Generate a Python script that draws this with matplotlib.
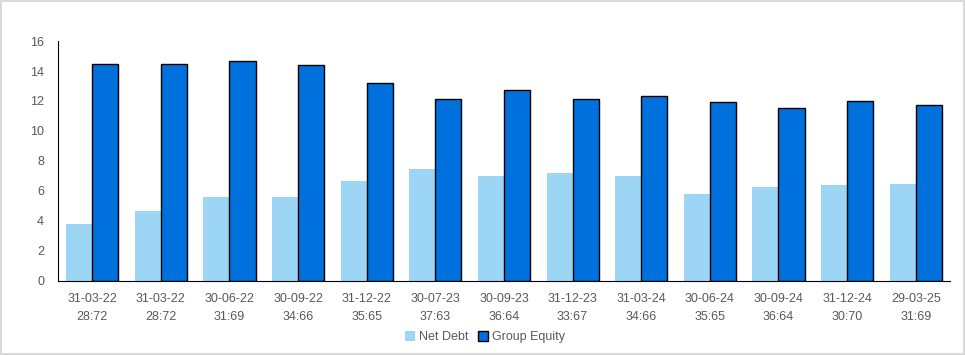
import matplotlib
matplotlib.use('Agg')
import matplotlib.pyplot as plt
import numpy as np

# data
labels = ['31-03-22\n28:72', '31-03-22\n28:72', '30-06-22\n31:69', '30-09-22\n34:66',
          '31-12-22\n35:65', '30-07-23\n37:63', '30-09-23\n36:64', '31-12-23\n33:67',
          '31-03-24\n34:66', '30-06-24\n35:65', '30-09-24\n36:64', '31-12-24\n30:70',
          '29-03-25\n31:69']
net_debt = [3.8, 4.67, 5.6, 5.6, 6.67, 7.47, 7.0, 7.2, 7.0, 5.8, 6.27, 6.4, 6.47]
group_equity = [14.5, 14.5, 14.7, 14.4, 13.2, 12.1, 12.7, 12.1, 12.3, 11.9, 11.5, 12.0, 11.7]

plt.rcParams['font.family'] = ['Liberation Sans', 'DejaVu Sans']

fig = plt.figure(figsize=(9.65, 3.55), dpi=100)
fig.patch.set_edgecolor('#d9d9d9')
fig.patch.set_linewidth(1.5)
ax = fig.add_axes([0.060, 0.2085, 0.9245, 0.676])

x = np.arange(len(labels))
w = 0.38
ax.bar(x - w / 2, net_debt, w, color='#9dd5f5', label='Net Debt')
ax.bar(x + w / 2, group_equity, w, color='#0070dd', edgecolor='black', linewidth=1, label='Group Equity')

ax.set_xlim(-0.5, len(labels) - 0.5)
ax.set_ylim(0, 16)
ax.set_yticks(range(0, 17, 2))
ax.set_xticks(x)
ax.set_xticklabels(labels, linespacing=1.6)
ax.tick_params(axis='both', length=0, colors='#595959', labelsize=9)
ax.tick_params(axis='x', pad=9)
ax.tick_params(axis='y', pad=10)

for s in ['top', 'right']:
    ax.spines[s].set_visible(False)
ax.spines['left'].set_color('black')
ax.spines['bottom'].set_color('black')

leg = fig.legend(loc='center', bbox_to_anchor=(485 / 965, 1 - 337 / 355), ncol=2, frameon=False,
                 fontsize=9, handlelength=0.8, handleheight=0.8, handletextpad=0.3,
                 columnspacing=0.8)
for t in leg.get_texts():
    t.set_color('#595959')

fig.savefig('out.png', dpi=100)
